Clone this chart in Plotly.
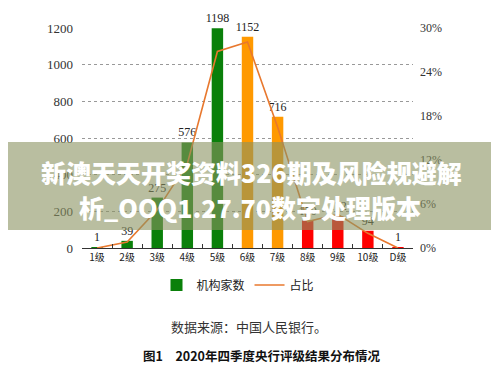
import plotly.graph_objects as go

categories = ["1级", "2级", "3级", "4级", "5级", "6级", "7级", "8级", "9级", "10级", "D级"]
counts = [1, 39, 275, 576, 1198, 1152, 716, 150, 172, 94, 1]
share_pct = [0.0, 0.8, 5.2, 11.5, 26.8, 28.1, 16.5, 3.6, 4.6, 2.0, 0.0]
bar_colors = ["#0a800a"] * 5 + ["#ff9900"] * 2 + ["#ff0000"] * 4
left_ticks = [0, 200, 400, 600, 800, 1000, 1200]
right_ticks = [0, 6, 12, 18, 24, 30]
right_tick_text = ["0%", "6%", "12%", "18%", "24%", "30%"]

# the page body has an 8px margin; figure sized to fit the window
OFF = 8
W, H = 499 - OFF, 374 - OFF
# plot area in window pixels: x 82..413, y 28..248
L = 82 - OFF
T = 28 - OFF
R = W - (413 - OFF)
B = H - (248 - OFF)
pw, ph = W - L - R, H - T - B


def px(xw):
    return (xw - OFF - L) / pw


def py(yw):
    return (H - B - (yw - OFF)) / ph


fig = go.Figure()
fig.add_trace(go.Bar(
    x=categories, y=counts, name="机构家数",
    marker=dict(color=bar_colors, line=dict(width=0)),
    text=[str(v) for v in counts], textposition="outside", constraintext="none",
    textfont=dict(family="Liberation Serif", size=12, color="#222"),
    cliponaxis=False, width=0.38,
))
fig.add_trace(go.Scatter(
    x=categories, y=share_pct, name="占比", yaxis="y2", mode="lines",
    line=dict(color="#e8782e", width=1.6), cliponaxis=False,
))

fig.update_layout(
    width=W, height=H,
    margin=dict(l=L, r=R, t=T, b=B, autoexpand=False),
    paper_bgcolor="white", plot_bgcolor="white",
    showlegend=True,
    legend=dict(orientation="h", x=px(238), xanchor="center", y=py(285), yanchor="middle",
                font=dict(family="Noto Sans CJK SC", size=12, color="#222"),
                itemwidth=30, tracegroupgap=0),
    xaxis=dict(showgrid=False, showline=True, linecolor="#333", linewidth=1,
               ticks="inside", ticklen=4, tickcolor="#333", tickson="boundaries",
               tickangle=0, automargin=False,
               tickfont=dict(family="Noto Sans CJK SC", size=10, color="#222"),
               fixedrange=True),
    yaxis=dict(range=[0, 1200], tickvals=left_ticks, showgrid=True, automargin=False,
               gridcolor="#999", griddash="dot", gridwidth=1, zeroline=False,
               showline=False, ticks="", ticklabelstandoff=8,
               tickfont=dict(family="Liberation Serif", size=13, color="#333")),
    yaxis2=dict(range=[0, 30], tickvals=right_ticks, ticktext=right_tick_text, automargin=False,
                overlaying="y", side="right", showgrid=False, zeroline=False,
                showline=False, ticks="", ticklabelstandoff=6,
                tickfont=dict(family="Liberation Serif", size=12, color="#333")),
    bargap=0.6,
)

# caption texts
fig.add_annotation(text="数据来源：中国人民银行。", x=px(249), y=py(326), xref="paper", yref="paper",
                   xanchor="center", yanchor="middle", showarrow=False,
                   font=dict(family="Noto Sans CJK SC", size=13, color="#333"))
fig.add_annotation(text="<b>图1　2020年四季度央行评级结果分布情况</b>", x=px(261), y=py(355),
                   xref="paper", yref="paper", xanchor="center", yanchor="middle", showarrow=False,
                   font=dict(family="Noto Sans CJK SC", size=12.5, color="#111"))

# overlay banner
fig.add_shape(type="rect", xref="paper", yref="paper", x0=px(OFF), x1=px(499), y0=py(230), y1=py(142),
              fillcolor="rgba(138,147,97,0.6)", line=dict(width=0), layer="above")
banner_font = dict(family="Noto Sans CJK SC Black, Noto Sans CJK SC Bold, Noto Sans CJK SC",
                   size=25, color="white", weight=900)
fig.add_annotation(text="<b>新澳天天开奖资料326期及风险规避解</b>", x=px(251), y=py(172),
                   xref="paper", yref="paper", xanchor="center", yanchor="middle",
                   showarrow=False, font=banner_font)
fig.add_annotation(text="<b>析_OOQ1.27.70数字处理版本</b>", x=px(250), y=py(207),
                   xref="paper", yref="paper", xanchor="center", yanchor="middle",
                   showarrow=False, font=banner_font)

fig.write_html("out.html")
